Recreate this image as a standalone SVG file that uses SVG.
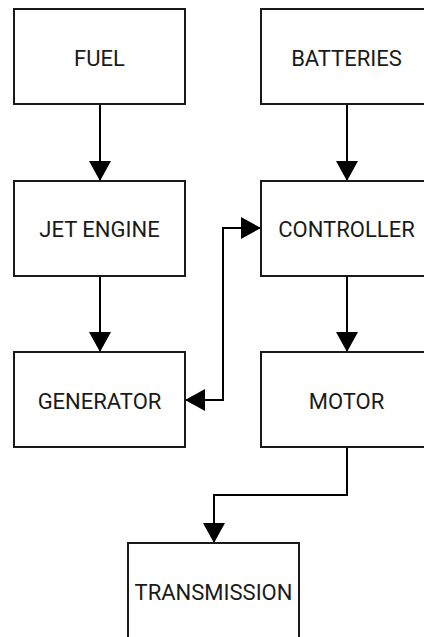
<svg xmlns="http://www.w3.org/2000/svg" width="424" height="637" viewBox="0 0 424 637">
  <style>
    .box { fill: #ffffff; stroke: #1a1a1a; stroke-width: 2; }
    .label { font-family: Roboto, "Liberation Sans", sans-serif; font-size: 22px; fill: #1a1a1a; text-anchor: middle; }
    .wire { fill: none; stroke: #000000; stroke-width: 2; }
  </style>
  <defs>
    <marker id="arrow" viewBox="0 0 20 22" refX="20" refY="11" markerWidth="20" markerHeight="22" markerUnits="userSpaceOnUse" orient="auto-start-reverse">
      <path d="M0,0 L20,11 L0,22 Z" fill="#000000"/>
    </marker>
  </defs>
  <rect width="424" height="637" fill="#ffffff"/>

  <g id="connectors">
    <path class="wire" d="M100,104 V181" marker-end="url(#arrow)"/>
    <path class="wire" d="M100,276 V352" marker-end="url(#arrow)"/>
    <path class="wire" d="M347,104 V181" marker-end="url(#arrow)"/>
    <path class="wire" d="M347,276 V352" marker-end="url(#arrow)"/>
    <path class="wire" d="M185,400 H223 V228 H261" marker-start="url(#arrow)" marker-end="url(#arrow)"/>
    <path class="wire" d="M347,447 V495 H214 V543" marker-end="url(#arrow)"/>
  </g>

  <g id="fuel">
    <rect class="box" x="14" y="9" width="171" height="95"/>
    <text class="label" x="99.5" y="66">FUEL</text>
  </g>
  <g id="batteries">
    <rect class="box" x="261" y="9" width="171" height="95"/>
    <text class="label" x="346.5" y="66">BATTERIES</text>
  </g>
  <g id="jet-engine">
    <rect class="box" x="14" y="181" width="171" height="95"/>
    <text class="label" x="99.5" y="237">JET ENGINE</text>
  </g>
  <g id="controller">
    <rect class="box" x="261" y="181" width="171" height="95"/>
    <text class="label" x="346.5" y="237">CONTROLLER</text>
  </g>
  <g id="generator">
    <rect class="box" x="14" y="352" width="171" height="95"/>
    <text class="label" x="99.5" y="409">GENERATOR</text>
  </g>
  <g id="motor">
    <rect class="box" x="261" y="352" width="171" height="95"/>
    <text class="label" x="346.5" y="409">MOTOR</text>
  </g>
  <g id="transmission">
    <rect class="box" x="128" y="543" width="171" height="95"/>
    <text class="label" x="213.5" y="600">TRANSMISSION</text>
  </g>
</svg>
